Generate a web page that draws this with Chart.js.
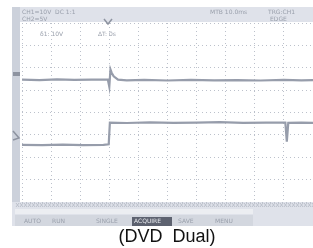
<!DOCTYPE html>
<html>
<head>
<meta charset="utf-8">
<script src="https://cdn.jsdelivr.net/npm/chart.js@4.4.0/dist/chart.umd.min.js"></script>
<style>
  html, body { margin: 0; padding: 0; background: #fff; }
  #wrap { position: relative; width: 313px; height: 248px; }
</style>
</head>
<body>
<div id="wrap"><canvas id="scope" width="313" height="248"></canvas></div>
<script>
// trace 1 (upper channel), divisions
var ch1X = [0, 0.6, 1.2, 1.8, 2.4, 2.95, 3.0, 3.04, 3.08, 3.15, 3.3, 3.6, 4.2, 5.0, 5.8, 6.6, 7.4, 8.2, 9.0, 9.6, 10];
var ch1Y = [1.47, 1.45, 1.48, 1.46, 1.47, 1.47, 1.15, 1.92, 1.78, 1.62, 1.47, 1.44, 1.46, 1.43, 1.46, 1.44, 1.45, 1.43, 1.46, 1.44, 1.45];
// trace 2 (lower channel)
var ch2X = [0, 0.7, 1.4, 2.1, 2.8, 2.98, 3.02, 3.6, 4.4, 5.2, 6.0, 6.8, 7.6, 8.4, 9.05, 9.1, 9.15, 9.6, 10];
var ch2Y = [-1.45, -1.46, -1.44, -1.46, -1.45, -1.42, -0.45, -0.47, -0.44, -0.46, -0.45, -0.43, -0.46, -0.45, -0.45, -1.3, -0.46, -0.45, -0.46];

var caption = '(DVD  Dual)';
var topLeft = ['CH1=10V  DC 1:1', 'CH2=5V'];
var topRight = ['MTB 10.0ms', 'TRG:CH1', 'EDGE'];
var cursorText = ['δ1: 10V', 'ΔT: 0s'];
var menuItems = ['AUTO', 'RUN', 'SINGLE', 'ACQUIRE', 'SAVE', 'MENU'];

function pts(xs, ys) {
    var out = [];
    for (var i = 0; i < xs.length; i++) out.push({ x: xs[i], y: ys[i] });
    return out;
}

var panel = {
    id: 'panel',
    beforeDraw: function (chart) {
        var c = chart.ctx, a = chart.chartArea;
        c.save();
        c.fillStyle = '#dfe2ea';
        c.fillRect(12, 7, 301, 219);
        c.fillStyle = '#ccd1db';
        c.fillRect(12, 7, 8, 195);
        c.fillStyle = '#ffffff';
        c.fillRect(20, a.top - 1, 293, a.bottom - a.top + 1);
        // crosshatch strip
        c.strokeStyle = '#bcc1cb';
        c.lineWidth = 1;
        for (var x = 16; x < 313; x += 4) {
            c.beginPath();
            c.moveTo(x, 203); c.lineTo(x + 3, 207);
            c.moveTo(x + 3, 203); c.lineTo(x, 207);
            c.stroke();
        }
        // menu bar
        c.fillStyle = '#eceef2';
        c.fillRect(15, 209, 238, 5);
        c.fillStyle = '#d3d7df';
        c.fillRect(15, 215, 238, 11);
        c.fillStyle = '#5d6270';
        c.fillRect(132, 217, 40, 9);
        c.restore();
    },
    afterDraw: function (chart) {
        var c = chart.ctx;
        c.save();
        c.font = '6px "DejaVu Sans"';
        c.fillStyle = '#9aa0ac';
        c.textBaseline = 'middle';
        c.fillText(topLeft[0], 22, 12);
        c.fillText(topLeft[1], 22, 19);
        c.fillText(topRight[0], 210, 12);
        c.fillText(topRight[1], 268, 12);
        c.fillText(topRight[2], 270, 19);
        c.fillText(cursorText[0], 40, 34);
        c.fillText(cursorText[1], 98, 34);
        var mx = [24, 52, 96, 134, 178, 215];
        for (var i = 0; i < menuItems.length; i++) {
            c.fillStyle = i === 3 ? '#e8eaef' : '#9aa0ac';
            c.fillText(menuItems[i], mx[i], 221);
        }
        // channel markers
        c.fillStyle = '#8d93a0';
        c.fillRect(13, 72, 7, 4);
        c.strokeStyle = '#8d93a0';
        c.lineWidth = 1.5;
        c.beginPath();
        c.moveTo(13, 131); c.lineTo(19, 138); c.lineTo(13, 140);
        c.stroke();
        // trigger marker
        c.beginPath();
        c.moveTo(104, 19); c.lineTo(108, 24); c.lineTo(112, 19);
        c.stroke();
        // caption
        c.font = '18px "Liberation Sans"';
        c.fillStyle = '#111111';
        c.textAlign = 'center';
        c.textBaseline = 'alphabetic';
        c.fillText(caption, 167, 242);
        c.restore();
    }
};

window.onload = function () {
    var ctx = document.getElementById('scope').getContext('2d');
    window.scope = new Chart(ctx, {
        type: 'line',
        data: {
            datasets: [{
                data: pts(ch1X, ch1Y),
                borderColor: '#979dab',
                borderWidth: 2.2,
                pointRadius: 0,
                tension: 0
            }, {
                data: pts(ch2X, ch2Y),
                borderColor: '#979dab',
                borderWidth: 2.2,
                pointRadius: 0,
                tension: 0
            }]
        },
        options: {
            responsive: false,
            animation: false,
            events: [],
            layout: { padding: { left: 22, top: 23, right: 0, bottom: 46 } },
            plugins: { legend: { display: false }, tooltip: { enabled: false } },
            scales: {
                x: {
                    type: 'linear', min: 0, max: 10,
                    ticks: { display: false, stepSize: 1 },
                    grid: { color: '#bcc1cb', lineWidth: 1, drawTicks: false },
                    border: { display: false, dash: [1, 3] }
                },
                y: {
                    type: 'linear', min: -4, max: 4,
                    ticks: { display: false, stepSize: 1 },
                    grid: { color: '#bcc1cb', lineWidth: 1, drawTicks: false },
                    border: { display: false, dash: [1, 3] }
                }
            }
        },
        plugins: [panel]
    });
};
</script>
</body>
</html>
